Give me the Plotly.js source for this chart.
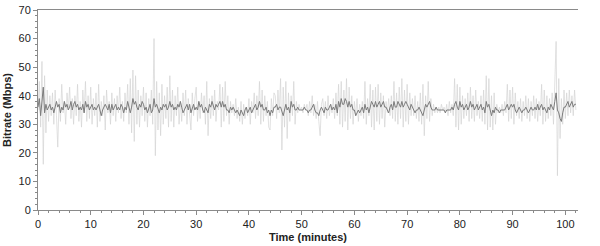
<!DOCTYPE html>
<html><head><meta charset="utf-8">
<script src="https://cdn.plot.ly/plotly-3.0.1.min.js"></script>
<style>html,body{margin:0;padding:0;background:#fff}#c{width:600px;height:246px}</style>
</head><body><div id="c"></div>
<script>
// Raw bitrate samples (Mbps), one every 0.25 minutes starting at 0
const rawStep = 0.25;
const rawBitrate = [
35,45,29,52, 16,47,27,42, 31,40,33,41, 30,42,33,22, 39,31,44,34,
38,30,41,35, 43,32,39,30, 40,33,44,31, 38,29,42,34, 45,31,40,32,
43,30,39,33, 41,29,44,31, 38,33,40,28, 42,34,38,30, 41,33,39,31,
40,34,43,32, 38,31,41,34, 44,30,46,27, 49,24,47,30, 42,29,40,33,
43,31,41,29, 39,33,42,30, 60,19,45,28, 41,26,44,30, 40,32,43,29,
47,31,42,29, 40,33,43,30, 38,31,41,33, 42,30,39,34, 28,41,33,39,
43,31,38,32, 41,34,40,30, 45,26,39,32, 40,33,42,31, 38,35,44,29,
43,31,45,33, 40,30,38,34, 37,33,39,32, 36,31,38,30, 37,32,36,33,
39,30,38,34, 41,32,40,33, 45,30,42,31, 40,33,38,29, 28,39,33,41,
40,32,42,34, 46,21,43,29, 45,25,41,31, 40,33,45,30, 38,34,37,35,
36,34,37,35, 37,33,38,34, 40,33,37,32, 38,31,26,37, 39,33,38,32,
40,33,37,34, 39,32,41,33, 44,30,45,29, 42,31,46,28, 43,32,40,30,
38,33,39,31, 37,33,38,32, 45,30,39,33, 44,29,42,28, 43,31,44,30,
41,32,40,29, 38,34,39,33, 40,32,45,31, 41,30,43,32, 46,29,42,31,
44,30,41,33, 39,33,40,32, 38,31,41,30, 44,26,40,32, 45,31,39,33,
37,34,36,34, 36,34,37,35, 36,34,37,33, 38,34,37,33, 46,29,44,28,
43,30,40,32, 39,33,41,31, 43,32,40,31, 42,33,38,32, 40,31,42,30,
47,28,46,29, 40,28,41,30, 37,34,36,34, 37,33,38,34, 44,31,42,32,
43,30,41,33, 38,32,39,31, 38,33,40,32, 39,31,38,33, 40,32,39,31,
38,33,44,30, 42,31,40,32, 39,33,41,30, 42,59,12,46, 25,39,30,42,
32,41,33,42, 34,40,33,42, 35
];
// Smoothed bitrate (Mbps), one every 0.25 minutes starting at 0
const smoothStep = 0.25;
const smoothBitrate = [
36,39,33,37, 43,34,37,35, 36,37,35,36, 34,36,38,36, 37,34,36,35,
38,36,37,35, 36,38,35,37, 38,36,37,35, 36,35,37,34, 38,36,37,35,
36,37,35,36, 35,36,37,35, 33,35,36,37, 36,35,37,34, 37,35,36,37,
35,36,35,37, 36,34,36,35, 38,36,34,36, 39,37,38,36, 35,37,36,38,
37,35,36,34, 36,37,34,35, 39,36,37,35, 34,36,35,37, 36,37,35,36,
38,36,37,35, 36,35,37,36, 38,36,34,35, 36,37,35,37, 34,36,37,35,
36,35,38,36, 37,35,34,36, 35,34,37,36, 38,36,35,37, 36,37,38,36,
38,36,37,35, 35,34,36,35, 36,35,34,35, 34,33,35,34, 33,35,36,34,
35,36,34,35, 36,37,35,36, 38,36,37,35, 35,36,34,35, 33,35,34,36,
36,37,35,36, 36,34,33,35, 37,35,36,34, 38,36,37,35, 35,36,35,35,
35,35,36,35, 35,34,35,35, 36,37,35,34, 34,33,35,36, 35,34,36,35,
35,36,37,35, 36,35,37,34, 38,36,39,37, 37,39,38,36, 38,36,37,35,
35,33,34,35, 34,35,36,34, 37,35,36,34, 36,38,37,36, 38,36,37,38,
36,37,38,36, 36,35,34,36, 37,35,38,36, 36,38,37,36, 38,36,37,38,
37,36,35,37, 36,35,34,35, 35,36,35,34, 33,35,37,36, 37,38,36,35,
35,35,36,35, 35,35,35,35, 35,34,35,35, 35,35,36,35, 37,38,36,35,
38,36,37,35, 36,37,35,36, 38,36,37,35, 36,37,35,36, 37,35,36,34,
38,36,37,35, 33,35,34,36, 35,35,34,35, 35,35,35,36, 37,35,36,37,
36,37,35,34, 35,36,35,34, 35,35,36,35, 34,35,36,35, 35,36,35,37,
35,36,37,35, 36,35,34,36, 35,37,36,35, 38,41,35,34, 32,31,34,36,
36,37,38,36, 37,38,36,37, 37
];
const xTickVals = [0,10,20,30,40,50,60,70,80,90,100];
const yTickVals = [0,10,20,30,40,50,60,70];

const rawTime = rawBitrate.map((_, i) => i * rawStep);
const smoothTime = smoothBitrate.map((_, i) => i * smoothStep);

const axisColor = '#8a8a8a';
const fnt = {family: 'Liberation Sans, Arial, sans-serif', size: 11, color: '#222'};

const traces = [
  {x: rawTime, y: rawBitrate, type: 'scatter', mode: 'lines',
   line: {color: '#d4d4d4', width: 0.7}, hoverinfo: 'skip', showlegend: false},
  {x: smoothTime, y: smoothBitrate, type: 'scatter', mode: 'lines',
   line: {color: '#7c7c7c', width: 1}, hoverinfo: 'skip', showlegend: false}
];

const common = {showgrid: false, zeroline: false, linecolor: axisColor, linewidth: 1,
  tickcolor: axisColor, ticklen: 4, tickwidth: 1, tickfont: fnt};

const layout = {
  width: 600, height: 246,
  margin: {l: 38, r: 22, t: 10, b: 36},
  paper_bgcolor: '#fff', plot_bgcolor: '#fff',
  font: fnt,
  showlegend: false,
  xaxis: Object.assign({}, common, {
    range: [0, 102.4], tickvals: xTickVals, ticks: 'outside', showline: true, mirror: true,
    minor: {dtick: 2, ticks: 'outside', ticklen: 2, tickcolor: axisColor},
    title: {text: 'Time (minutes)', font: {family: fnt.family, size: 11, color: '#222', weight: 'bold'}, standoff: 4}
  }),
  xaxis2: Object.assign({}, common, {
    overlaying: 'x', anchor: 'y', side: 'bottom', range: [0, 102.4], tickvals: xTickVals,
    ticks: 'inside', mirror: 'ticks', showline: false, showticklabels: false,
    minor: {dtick: 2, ticks: 'inside', ticklen: 2, tickcolor: axisColor}
  }),
  yaxis: Object.assign({}, common, {
    range: [0, 70], tickvals: yTickVals, ticks: 'outside', showline: true,
    minor: {dtick: 2, ticks: 'outside', ticklen: 2, tickcolor: axisColor},
    title: {text: 'Bitrate (Mbps)', font: {family: fnt.family, size: 11, color: '#222', weight: 'bold'}, standoff: 4}
  }),
  yaxis2: Object.assign({}, common, {
    overlaying: 'y', side: 'right', anchor: 'x', range: [0, 70], tickvals: yTickVals,
    ticks: 'outside', showline: true,
    minor: {dtick: 2, ticks: 'outside', ticklen: 2, tickcolor: axisColor}
  }),
  yaxis3: Object.assign({}, common, {
    overlaying: 'y', side: 'left', anchor: 'x', range: [0, 70], tickvals: yTickVals,
    ticks: 'inside', mirror: 'ticks', showline: false, showticklabels: false,
    minor: {dtick: 2, ticks: 'inside', ticklen: 2, tickcolor: axisColor}
  })
};

Plotly.newPlot('c', traces, layout, {staticPlot: true, displayModeBar: false});
</script></body></html>
